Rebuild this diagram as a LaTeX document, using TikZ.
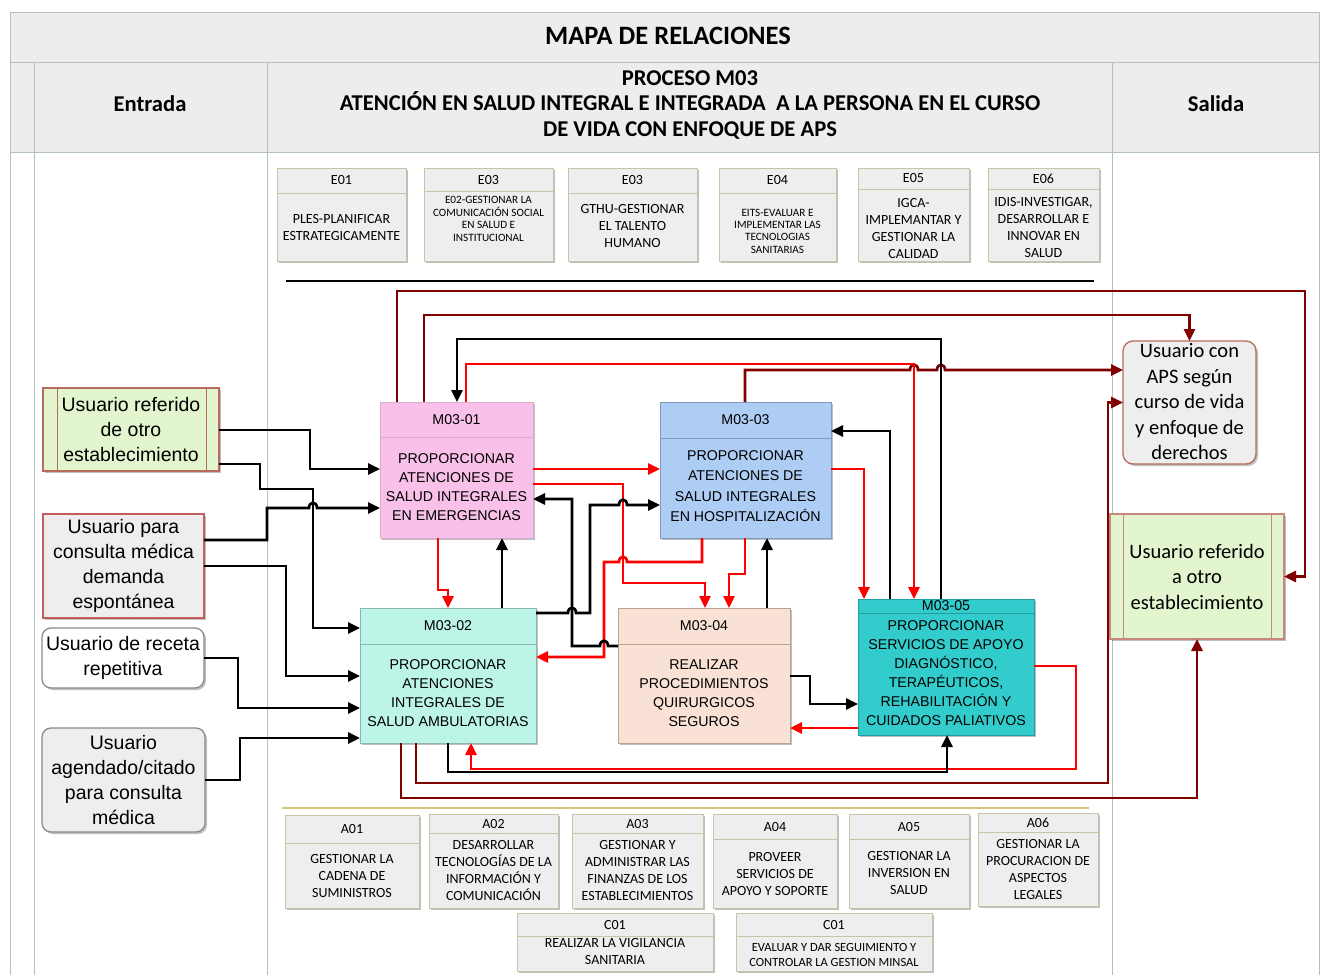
\documentclass[tikz,border=0pt]{standalone}
\usepackage{fontspec}
\setmainfont{Liberation Sans}
\newfontfamily\calfont{Carlito}
\usetikzlibrary{calc,arrows.meta,shadows}

\definecolor{gridln}{HTML}{B3C3BC}
\definecolor{headfill}{HTML}{EDEDED}
\definecolor{boxfill}{HTML}{EEEEEE}
\definecolor{boxedge}{HTML}{CBC3A6}
\definecolor{pinkfill}{HTML}{F9C1EA}
\definecolor{pinkedge}{HTML}{D5AECB}
\definecolor{bluefill}{HTML}{ADCDF5}
\definecolor{blueedge}{HTML}{7E9CC0}
\definecolor{mintfill}{HTML}{BDF4E8}
\definecolor{mintedge}{HTML}{8DB5AD}
\definecolor{peachfill}{HTML}{F9E2D5}
\definecolor{peachedge}{HTML}{B7A394}
\definecolor{tealfill}{HTML}{33CCCC}
\definecolor{tealedge}{HTML}{239E9E}
\definecolor{greenfill}{HTML}{E2F5CE}
\definecolor{brownedge}{HTML}{B86A5C}
\definecolor{roseedge}{HTML}{C45E5E}
\definecolor{grayedge}{HTML}{8A8A8A}
\definecolor{darkred}{HTML}{800000}
\definecolor{goldln}{HTML}{D8C47C}

\tikzset{
  conn/.style={line width=2.7pt},
  ablk/.style={conn, draw=black, -{Triangle[length=12pt,width=11pt]}},
  ared/.style={conn, draw=red, -{Triangle[length=12pt,width=11pt]}},
  adrk/.style={conn, draw=darkred, -{Triangle[length=12pt,width=11pt]}},
  shad/.style={drop shadow={shadow xshift=2pt, shadow yshift=-2pt, opacity=0.25, fill=black}},
  sbox/.style={draw=boxedge, fill=boxfill, line width=1pt, inner sep=0pt, outer sep=0pt, shad},
  sdiv/.style={draw=boxedge, line width=1pt},
  stxt/.style={font=\calfont\fontsize{14}{17}\selectfont, align=center, inner sep=0pt},
  ssmall/.style={font=\calfont\fontsize{11.2}{12.4}\selectfont},
  smid/.style={font=\calfont\fontsize{12.5}{15}\selectfont},
  pbox/.style={line width=1pt, inner sep=0pt, outer sep=0pt, shad},
  ptxt/.style={font=\fontsize{14.2}{19}\selectfont, align=center, inner sep=0pt},
  ubox/.style={line width=1.3pt, inner sep=0pt, outer sep=0pt, shad},
  utxt/.style={font=\fontsize{19.5}{25}\selectfont, align=center, inner sep=0pt},
  otxt/.style={font=\calfont\fontsize{20.5}{25.5}\selectfont, align=center, inner sep=0pt},
  htxt/.style={font=\calfont\bfseries\fontsize{22.6}{25.5}\selectfont, align=center, inner sep=0pt},
}

% support process box: name, x1, y1, x2, y2, divider y, code, body options, body text
\newcommand{\subproc}[9]{%
  \node[sbox, minimum width={#4-#2}, minimum height={#5-#3}] (#1) at ({(#2+#4)/2},{(#3+#5)/2}) {};
  \draw[sdiv] (#1.west |- 0,#6) -- (#1.east |- 0,#6);
  \node[stxt] (#1-h) at ({(#2+#4)/2},{(#3+#6)/2}) {#7};
  \node[stxt, #8] (#1-b) {#9};
}

\begin{document}
\begin{tikzpicture}[x=1pt,y=-1pt]
\useasboundingbox (0,0) rectangle (1320,975);

% ---- table frame ----
\fill[headfill] (10,12) rectangle (1320,152);
\draw[gridln, line width=1pt] (10,12) -- (1319,12) -- (1319,975);
\draw[gridln, line width=1pt] (10,12) -- (10,975);
\draw[gridln, line width=1pt] (10,62) -- (1319,62);
\draw[gridln, line width=1pt] (10,152) -- (1319,152);
\draw[gridln, line width=1pt] (34,62) -- (34,975);
\draw[gridln, line width=1pt] (267,62) -- (267,975);
\draw[gridln, line width=1pt] (1112,62) -- (1112,975);

\node[htxt, font=\calfont\bfseries\fontsize{26.5}{30}\selectfont] (title) at (668,36) {MAPA DE RELACIONES};
\node[htxt] (hin) at (150,104) {Entrada};
\node[htxt] (hproc) at (690,105) {PROCESO M03\\ATENCIÓN EN SALUD INTEGRAL E INTEGRADA~~A LA PERSONA EN EL CURSO\\DE VIDA CON ENFOQUE DE APS};
\node[htxt] (hout) at (1216,104) {Salida};

% ---- strategic processes ----
\subproc{e01}{277}{168}{406}{261}{193}{E01}{at={(341.5,227)}}{PLES-PLANIFICAR\\ESTRATEGICAMENTE}
\subproc{e02}{424}{168}{553}{261}{191}{E03}{ssmall, at={(488.5,219)}}{E02-GESTIONAR LA\\COMUNICACIÓN SOCIAL\\EN SALUD E\\INSTITUCIONAL}
\subproc{e03}{568}{168}{697}{261}{193}{E03}{at={(632.5,226)}}{GTHU-GESTIONAR\\EL TALENTO\\HUMANO}
\subproc{e04}{719}{168}{836}{261}{193}{E04}{ssmall, at={(777.5,231)}}{EITS-EVALUAR E\\IMPLEMENTAR LAS\\TECNOLOGIAS\\SANITARIAS}
\subproc{e05}{858}{168}{969}{261}{189}{E05}{at={(913.5,228)}}{IGCA-\\IMPLEMANTAR Y\\GESTIONAR LA\\CALIDAD}
\subproc{e06}{988}{168}{1099}{261}{189}{E06}{at={(1043.5,228)}}{IDIS-INVESTIGAR,\\DESARROLLAR E\\INNOVAR EN\\SALUD}

\draw[black, line width=1.2pt] (286,281) -- (1094,281);
\draw[goldln, line width=1.5pt] (282,808) -- (1089,808);

% ---- support processes ----
\subproc{a01}{285}{815}{419}{908}{843}{A01}{at={(352,876)}}{GESTIONAR LA\\CADENA DE\\SUMINISTROS}
\subproc{a02}{429}{814}{558}{908}{833}{A02}{at={(493.5,870.5)}}{DESARROLLAR\\TECNOLOGÍAS DE LA\\INFORMACIÓN Y\\COMUNICACIÓN}
\subproc{a03}{572}{814}{703}{908}{833}{A03}{at={(637.5,870)}}{GESTIONAR Y\\ADMINISTRAR LAS\\FINANZAS DE LOS\\ESTABLECIMIENTOS}
\subproc{a04}{713}{814}{837}{908}{839}{A04}{at={(775,874)}}{PROVEER\\SERVICIOS DE\\APOYO Y SOPORTE}
\subproc{a05}{849}{814}{969}{908}{839}{A05}{at={(909,873)}}{GESTIONAR LA\\INVERSION EN\\SALUD}
\subproc{a06}{978}{813}{1098}{906}{832}{A06}{at={(1038,869)}}{GESTIONAR LA\\PROCURACION DE\\ASPECTOS\\LEGALES}
\subproc{c01a}{517}{913}{713}{971}{936}{C01}{at={(615,951.5)}}{REALIZAR LA VIGILANCIA\\SANITARIA}
\subproc{c01b}{736}{913}{932}{971}{936}{C01}{smid, at={(834,954.5)}}{EVALUAR Y DAR SEGUIMIENTO Y\\CONTROLAR LA GESTION MINSAL}

% ---- M03 sub-processes ----
\node[pbox, draw=pinkedge, fill=pinkfill, minimum width=153, minimum height=136] (m01) at (456.5,470) {};
\draw[pinkedge, line width=1pt] (m01.west |- 0,437) -- (m01.east |- 0,437);
\node[ptxt] (m01-h) at (456.5,419.5) {M03-01};
\node[ptxt] (m01-b) at (456.5,487) {PROPORCIONAR\\ATENCIONES DE\\SALUD INTEGRALES\\EN EMERGENCIAS};

\node[pbox, draw=blueedge, fill=bluefill, minimum width=171, minimum height=136] (m03) at (745.5,470) {};
\draw[blueedge, line width=1pt] (m03.west |- 0,438) -- (m03.east |- 0,438);
\node[ptxt] (m03-h) at (745.5,420) {M03-03};
\node[ptxt, font=\fontsize{14.2}{20.5}\selectfont] (m03-b) at (745.5,486) {PROPORCIONAR\\ATENCIONES DE\\SALUD INTEGRALES\\EN HOSPITALIZACIÓN};

\node[pbox, draw=mintedge, fill=mintfill, minimum width=176, minimum height=135] (m02) at (448,675.5) {};
\draw[mintedge, line width=1pt] (m02.west |- 0,644) -- (m02.east |- 0,644);
\node[ptxt] (m02-h) at (448,626) {M03-02};
\node[ptxt] (m02-b) at (448,693) {PROPORCIONAR\\ATENCIONES\\INTEGRALES DE\\SALUD AMBULATORIAS};

\node[pbox, draw=peachedge, fill=peachfill, minimum width=172, minimum height=135] (m04) at (704,675.5) {};
\draw[peachedge, line width=1pt] (m04.west |- 0,644) -- (m04.east |- 0,644);
\node[ptxt] (m04-h) at (704,626) {M03-04};
\node[ptxt] (m04-b) at (704,693) {REALIZAR\\PROCEDIMIENTOS\\QUIRURGICOS\\SEGUROS};

\node[pbox, draw=tealedge, fill=tealfill, minimum width=176, minimum height=136] (m05) at (946,667) {};
\draw[tealedge, line width=1pt] (m05.west |- 0,613) -- (m05.east |- 0,613);
\node[ptxt] (m05-h) at (946,606) {M03-05};
\node[ptxt] (m05-b) at (946,673) {PROPORCIONAR\\SERVICIOS DE APOYO\\DIAGNÓSTICO,\\TERAPÉUTICOS,\\REHABILITACIÓN Y\\CUIDADOS PALIATIVOS};

% ---- inputs ----
\node[ubox, draw=brownedge, fill=greenfill, minimum width=176, minimum height=83] (in1) at (131,429.5) {};
\draw[brownedge, line width=1pt] (in1.north -| 57,0) -- (in1.south -| 57,0);
\draw[brownedge, line width=1pt] (in1.north -| 206,0) -- (in1.south -| 206,0);
\node[utxt] (in1-t) at (131,429.5) {Usuario referido\\de otro\\establecimiento};

\node[ubox, draw=roseedge, fill=boxfill, minimum width=161, minimum height=104] (in2) at (123.5,566) {};
\node[utxt] (in2-t) at (123.5,566) {Usuario para\\consulta médica\\demanda\\espontánea};

\node[ubox, draw=grayedge, fill=white, rounded corners=9pt, minimum width=162, minimum height=60] (in3) at (123,658) {};
\node[utxt] (in3-t) at (123,658) {Usuario de receta\\repetitiva};

\node[ubox, draw=grayedge, fill=boxfill, rounded corners=9pt, minimum width=163, minimum height=104] (in4) at (123.5,780) {};
\node[utxt] (in4-t) at (123.5,780) {Usuario\\agendado/citado\\para consulta\\médica};

% ---- outputs ----
\node[ubox, draw=brownedge, fill=boxfill, rounded corners=10pt, minimum width=133, minimum height=123] (out1) at (1189.5,402.5) {};
\node[otxt] (out1-t) at (1189.5,402) {Usuario con\\APS según\\curso de vida\\y enfoque de\\derechos};

\node[ubox, draw=brownedge!80, fill=greenfill, minimum width=174, minimum height=125] (out2) at (1197,576.5) {};
\draw[brownedge!80, line width=1pt] (out2.north -| 1123,0) -- (out2.south -| 1123,0);
\draw[brownedge!80, line width=1pt] (out2.north -| 1271,0) -- (out2.south -| 1271,0);
\node[otxt] (out2-t) at (1197,576.5) {Usuario referido\\a otro\\establecimiento};

% ---- outputs of the process (dark red) ----
\draw[adrk] (m01.north -| 397,0) |- (1305,291) |- (out2.east);
\draw[adrk] (m01.north -| 424,0) |- (out1.north |- 0,315) -- (out1.north);
\draw[adrk] (m03.north -| 745,0) -- (745,370) -- (910,370) .. controls (910,363) and (918,363) .. (918,370)
  -- (937,370) .. controls (937,363) and (945,363) .. (945,370) -- (out1.west |- 0,370);
\draw[adrk] (m02.south -| 401,0) |- (out2.south |- 0,798) -- (out2.south);
\draw[adrk] (m02.south -| 416,0) |- (1108,783) |- (out1.west);

% ---- internal flows (red) ----
\draw[ared] (m01.east |- 0,469) -- (m03.west |- 0,469);
\draw[ared] (m01.east |- 0,484) -| (623,583) -| (m04.north -| 705,0);
\draw[ared] (m03.south -| 702,0) -- (702,562) -- (627,562) .. controls (627,555) and (619,555) .. (619,562)
  -- (604,562) |- (m02.east |- 0,657);
\draw[ared] (m03.south -| 745,0) |- (729,574) -- (m04.north -| 729,0);
\draw[ared] (m01.south -| 438,0) |- (448,590) -- (m02.north -| 448,0);
\draw[ared] (m01.north -| 466,0) |- (914,364) -- (m05.north -| 914,0);
\draw[ared] (m03.east |- 0,469) -| (m05.north -| 864,0);
\draw[ared] (m05.west |- 0,728) -- (m04.east |- 0,728);
\draw[ared] (m05.east |- 0,666) -| (1076,769) -| (m02.south -| 471,0);

% ---- internal flows (black) ----
\draw[ablk] (m02.north -| 502,0) -- (m01.south -| 502,0);
\draw[ablk] (m04.north -| 767,0) -- (m03.south -| 767,0);
\draw[ablk] (m02.east |- 0,613) -- (568,613) .. controls (568,606) and (576,606) .. (576,613)
  -- (590,613) -- (590,505) -- (619,505) .. controls (619,498) and (627,498) .. (627,505) -- (m03.west |- 0,505);
\draw[ablk] (m04.west |- 0,646) -- (608,646) .. controls (608,639) and (600,639) .. (600,646)
  -- (572,646) -- (572,499) -- (m01.east |- 0,499);
\draw[ablk] (m05.north -| 890,0) |- (m03.east |- 0,431);
\draw[ablk] (m05.north -| 941,0) |- (457,339) -- (m01.north -| 457,0);
\draw[ablk] (m04.east |- 0,676) -| (810,704) -- (m05.west |- 0,704);
\draw[ablk] (m02.south -| 448,0) |- (947,772) -- (m05.south -| 947,0);

% ---- entries (black) ----
\draw[ablk] (in1.east |- 0,430) -| (310,469) -- (m01.west |- 0,469);
\draw[ablk] (in1.east |- 0,464) -| (260,489) -| (313,628) -- (m02.west |- 0,628);
\draw[ablk] (in2.east |- 0,540) -| (267,508) -- (309,508) .. controls (309,501) and (317,501) .. (317,508) -- (m01.west |- 0,508);
\draw[ablk] (in2.east) -| (286,676) -- (m02.west |- 0,676);
\draw[ablk] (in3.east) -| (238,708) -- (m02.west |- 0,708);
\draw[ablk] (in4.east) -| (240,738) -- (m02.west |- 0,738);

\end{tikzpicture}
\end{document}
